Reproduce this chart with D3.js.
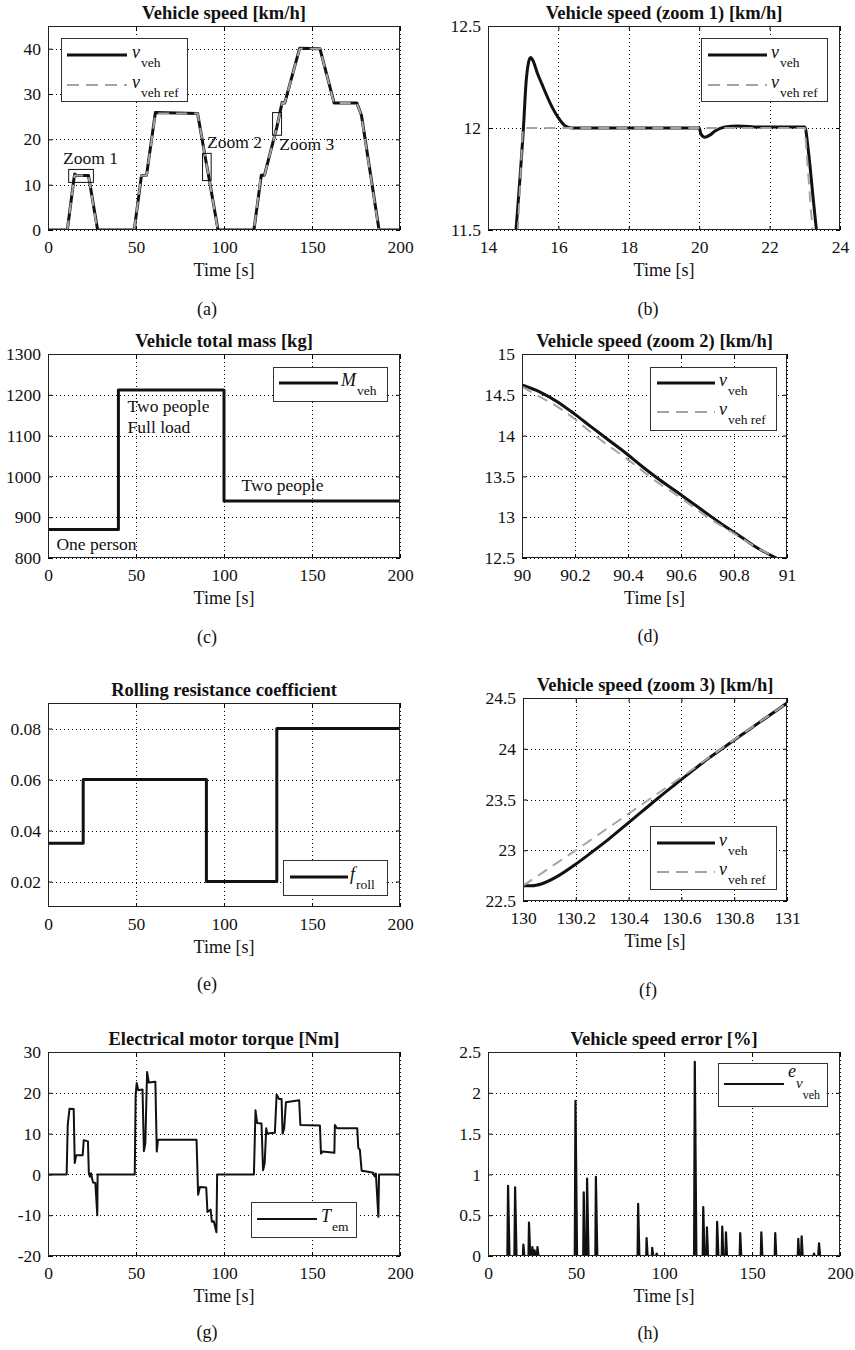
<!DOCTYPE html>
<html>
<head>
<meta charset="utf-8">
<script src="https://cdn.jsdelivr.net/npm/d3@7"></script>
<style>
  body { margin: 0; background: #fff; }
  text { font-family: "Liberation Serif", "Times New Roman", serif; fill: #111; }
</style>
</head>
<body>
<svg id="fig" width="855" height="1350"></svg>
<script>
// ---------------- data ----------------
var timeTicks = [0, 50, 100, 150, 200];

// (a) full drive cycle speed [km/h]
var speedRef = [[0,0],[11,0],[15,12],[23,12],[28,0],[49,0],[53,12],[56,12],[61,25.7],[85,25.7],[90,14.6],[91,12.5],[96.5,0],
  [117,0],[121,12],[123,12],[130,22.65],[131,24.45],[133,28],[134.5,28],[143,40],[154.5,40],[162.5,28],[175.5,28],[178,25.3],[188,0],[200,0]];
var speedVeh = [[0,0],[11,0],[14.8,11.5],[15.2,12.35],[16.2,12],[23,12],[28.2,0],[49,0],[53.1,12],[56,12.1],[61,25.9],[85,25.7],[90,14.62],[91,12.5],[96.6,0],
  [117,0],[121.2,12.1],[123,12.1],[130,22.65],[131,24.45],[133,28.1],[134.5,28],[143,40.1],[154.5,40],[162.6,28],[175.5,28],[178.1,25.3],[188.1,0],[200,0]];
var speedTicks = [0, 10, 20, 30, 40];
var zoomBoxes = [[11.75, 25.8, 10.5, 13.36], [87.8, 92.7, 10.9, 16.9], [127.6, 132.7, 20.9, 25.9]];
var zoomLabels = [["Zoom 1", 8.5, 14.5], ["Zoom 2", 90.4, 18.1], ["Zoom 3", 131.4, 17.6]];

// (b) zoom 1
var zoom1Veh = [[14.75,11.4],[14.85,11.62],[15.01,12.01],[15.08,12.22],[15.15,12.32],[15.21,12.345],[15.28,12.33],[15.4,12.27],[15.52,12.22],
  [15.8,12.11],[16.0,12.05],[16.2,12.01],[16.4,12.0],[20.0,12.0],[20.05,11.97],[20.16,11.955],[20.3,11.965],[20.45,11.985],[20.73,12.005],
  [21.1,12.01],[21.7,12.005],[23.0,12.005],[23.1,11.89],[23.24,11.65],[23.36,11.45]];
var zoom1Ref = [[14.82,11.4],[14.99,12.0],[23.0,12.0],[23.24,11.45]];
var zoom1XTicks = [14, 16, 18, 20, 22, 24];
var zoom1YTicks = [11.5, 12, 12.5];

// (c) vehicle total mass [kg]
var massData = [[0,870],[40,870],[40,1212],[100,1212],[100,940],[200,940]];
var massTicks = [800, 900, 1000, 1100, 1200, 1300];
var massLabels = [["Two people", 45.2, 1158], ["Full load", 45.2, 1107], ["Two people", 110, 965], ["One person", 4.8, 820]];

// (d) zoom 2
var zoom2Veh = [[90,14.62],[90.07,14.53],[90.136,14.41],[90.2,14.26],[90.26,14.11],[90.325,13.95],[90.39,13.79],[90.45,13.63],[90.51,13.48],
  [90.58,13.32],[90.64,13.18],[90.70,13.04],[90.77,12.88],[90.83,12.75],[90.89,12.62],[90.96,12.5]];
var zoom2Ref = [[90,14.6],[90.07,14.47],[90.136,14.35],[90.2,14.2],[90.26,14.04],[90.325,13.88],[90.39,13.73],[90.45,13.58],[90.51,13.43],
  [90.58,13.28],[90.64,13.14],[90.70,13.0],[90.77,12.86],[90.83,12.74],[90.89,12.62],[90.95,12.52]];
var zoom2XTicks = [90, 90.2, 90.4, 90.6, 90.8, 91];
var zoom2YTicks = [12.5, 13, 13.5, 14, 14.5, 15];

// (e) rolling resistance coefficient
var rollData = [[0,0.035],[20,0.035],[20,0.06],[90,0.06],[90,0.02],[130,0.02],[130,0.08],[200,0.08]];
var rollTicks = [0.02, 0.04, 0.06, 0.08];

// (f) zoom 3
var zoom3Veh = [[130,22.65],[130.034,22.65],[130.072,22.67],[130.135,22.75],[130.198,22.86],[130.26,22.98],[130.325,23.11],[130.39,23.25],
  [130.45,23.38],[130.51,23.51],[130.577,23.65],[130.64,23.78],[130.70,23.9],[130.77,24.03],[130.83,24.14],[130.89,24.25],[131,24.45]];
var zoom3Ref = [[130,22.65],[130.2,23.0],[130.4,23.36],[130.6,23.72],[130.8,24.09],[131,24.45]];
var zoom3XTicks = [130, 130.2, 130.4, 130.6, 130.8, 131];
var zoom3YTicks = [22.5, 23, 23.5, 24, 24.5];

// (g) electrical motor torque [Nm]
var torqueData = [[0,0],[10.6,0],[11.2,12],[12.2,16.1],[14.6,16],[15.2,2.8],[16,4.7],[19.7,4.7],[20.3,8.4],[22.7,8.1],[23.2,0.3],[23.8,-0.6],
  [24.4,0.3],[25.6,-2.0],[26.9,-2.1],[28.0,-10.0],[28.2,0],[49.3,0],[49.8,19.5],[50.4,22.4],[51.3,20.6],[53.7,20.8],[54.5,5.7],[55.3,7.6],
  [56.3,25.1],[57.3,22.5],[61.0,22.7],[61.8,5.6],[62.5,8.5],[84.4,8.5],[85.3,-5.0],[86.3,-3.1],[89.9,-3.2],[90.6,-9.2],[92.4,-8.6],[93.1,-11.6],
  [94.2,-11.5],[95.7,-14.2],[96.1,0],[117.0,0],[117.9,15.7],[118.8,12.6],[121.3,12.5],[122.2,1.0],[123.1,2.7],[124.0,11.3],[124.6,10.0],
  [128.9,10.2],[129.9,19.6],[131.2,18.5],[132.7,18.5],[133.3,10.0],[134.2,11.3],[135.2,17.7],[142.7,18.2],[143.4,12.1],[154.5,12.0],[155.1,5.1],
  [156.0,5.6],[162.7,5.3],[163.0,12.1],[164.2,11.3],[175.7,11.3],[176.3,6.5],[177.2,6.0],[178.2,0.9],[181,0.7],[184.8,0.4],[185.6,-0.5],
  [186.3,0.2],[187.7,-10.4],[188.1,0],[200,0]];
var torqueTicks = [-20, -10, 0, 10, 20, 30];

// (h) vehicle speed error [%]
var errorData = [[0,0],[11.0,0],[11.4,0.86],[12.2,0],[15.0,0],[15.4,0.84],[16.2,0],[19.8,0],[20.1,0.14],[20.7,0],[23.0,0],[23.3,0.41],[24.0,0],
  [25.0,0],[25.2,0.11],[25.7,0],[26.3,0],[26.5,0.07],[26.9,0],[27.8,0],[28.1,0.11],[28.7,0],[49.3,0],[49.7,1.90],[50.6,0],[54.1,0],[54.4,0.78],
  [55.0,0],[56.0,0],[56.3,0.95],[57.1,0],[61.0,0],[61.3,0.97],[62.1,0],[85.0,0],[85.3,0.64],[86.0,0],[89.9,0],[90.1,0.22],[90.7,0],[93.1,0],
  [93.3,0.10],[93.9,0],[95.5,0],[95.8,0.03],[96.4,0],[117.1,0],[117.5,2.38],[118.4,0],[122.0,0],[122.3,0.60],[123.0,0],[124.1,0],[124.4,0.35],
  [125.0,0],[129.9,0],[130.2,0.42],[130.9,0],[132.8,0],[133.1,0.36],[133.7,0],[134.9,0],[135.2,0.29],[135.8,0],[143.0,0],[143.3,0.28],[143.9,0],
  [155.0,0],[155.3,0.29],[155.9,0],[162.9,0],[163.2,0.28],[163.8,0],[176.0,0],[176.3,0.21],[176.8,0],[177.9,0],[178.2,0.24],[178.8,0],
  [184.9,0],[185.2,0.03],[185.7,0],[187.6,0],[188.1,0.155],[188.7,0],[200,0]];
var errorTicks = [0, 0.5, 1, 1.5, 2, 2.5];

// ---------------- drawing ----------------
var svg = d3.select("#fig");
var BLACK = "#111", GREY = "#a3a3a3";
var clipId = 0;

function panel(p) {
  var g = svg.append("g");
  var x = d3.scaleLinear().domain(p.xd).range([p.l, p.r]);
  var y = d3.scaleLinear().domain(p.yd).range([p.b, p.t]);
  var fmt = function(d) { return String(d); };

  // dotted grid
  g.selectAll(".gx").data(p.xt).enter().append("line")
    .attr("x1", function(d) { return Math.round(x(d)) + 0.5; })
    .attr("x2", function(d) { return Math.round(x(d)) + 0.5; })
    .attr("y1", p.t).attr("y2", p.b)
    .attr("stroke", "#000").attr("stroke-width", 1).attr("stroke-dasharray", "1,3");
  g.selectAll(".gy").data(p.yt).enter().append("line")
    .attr("y1", function(d) { return Math.round(y(d)) + 0.5; })
    .attr("y2", function(d) { return Math.round(y(d)) + 0.5; })
    .attr("x1", p.l).attr("x2", p.r)
    .attr("stroke", "#000").attr("stroke-width", 1).attr("stroke-dasharray", "1,3");

  // inward ticks on all four sides
  var ax = [
    g.append("g").attr("transform", "translate(0," + p.b + ")")
      .call(d3.axisBottom(x).tickValues(p.xt).tickFormat(fmt).tickSizeInner(-4).tickSizeOuter(0).tickPadding(10.5)),
    g.append("g").attr("transform", "translate(" + p.l + ",0)")
      .call(d3.axisLeft(y).tickValues(p.yt).tickFormat(fmt).tickSizeInner(-4).tickSizeOuter(0).tickPadding(7)),
    g.append("g").attr("transform", "translate(0," + p.t + ")")
      .call(d3.axisTop(x).tickValues(p.xt).tickFormat("").tickSizeInner(-4).tickSizeOuter(0)),
    g.append("g").attr("transform", "translate(" + p.r + ",0)")
      .call(d3.axisRight(y).tickValues(p.yt).tickFormat("").tickSizeInner(-4).tickSizeOuter(0))
  ];
  ax.forEach(function(a) {
    a.attr("font-family", null).attr("font-size", null);
    a.select(".domain").remove();
    a.selectAll("text").style("font-size", "17.5px").attr("fill", BLACK);
    a.selectAll("line").attr("stroke", "#000");
  });

  // data lines
  var id = "clip" + (clipId++);
  svg.append("clipPath").attr("id", id).append("rect")
    .attr("x", p.l).attr("y", p.t).attr("width", p.r - p.l).attr("height", p.b - p.t);
  var lg = g.append("g").attr("clip-path", "url(#" + id + ")");
  p.series.forEach(function(s) {
    var line = d3.line().x(function(d) { return x(d[0]); }).y(function(d) { return y(d[1]); })
      .curve(s.smooth ? d3.curveMonotoneX : d3.curveLinear);
    lg.append("path").datum(s.data).attr("d", line)
      .attr("fill", "none").attr("stroke", s.dash ? GREY : BLACK)
      .attr("stroke-width", s.w).attr("stroke-dasharray", s.dash ? "11,7" : null)
      .attr("stroke-linejoin", "round");
  });

  // frame
  g.append("rect").attr("x", p.l + 0.5).attr("y", p.t + 0.5)
    .attr("width", p.r - p.l - 1).attr("height", p.b - p.t - 1)
    .attr("fill", "none").attr("stroke", "#222").attr("stroke-width", 1);

  // texts
  g.append("text").attr("x", (p.l + p.r) / 2).attr("y", p.t - 7)
    .attr("text-anchor", "middle").style("font-size", "18.5px").style("font-weight", "bold").text(p.title);
  g.append("text").attr("x", (p.l + p.r) / 2).attr("y", p.b + 46)
    .attr("text-anchor", "middle").style("font-size", "18px").text("Time [s]");
  g.append("text").attr("x", p.tagX).attr("y", p.tagY)
    .attr("text-anchor", "middle").style("font-size", "18px").text(p.tag);

  // legend
  var L = p.legend;
  g.append("rect").attr("x", L.box[0] + 0.5).attr("y", L.box[1] + 0.5)
    .attr("width", L.box[2] - L.box[0]).attr("height", L.box[3] - L.box[1])
    .attr("fill", "#fff").attr("stroke", "#333").attr("stroke-width", 1);
  L.items.forEach(function(it, i) {
    var ly = L.ys[i];
    g.append("line").attr("x1", L.line[0]).attr("x2", L.line[1]).attr("y1", ly).attr("y2", ly)
      .attr("stroke", it.dash ? GREY : BLACK).attr("stroke-width", it.w)
      .attr("stroke-dasharray", it.dash ? "12,7" : null);
    var t = g.append("text").attr("x", L.tx).attr("y", ly + 3);
    t.append("tspan").style("font-style", "italic").style("font-size", "18px").text(it.main);
    if (it.sub2) {
      t.attr("y", ly - 7);
      t.append("tspan").attr("dy", 11).style("font-style", "italic").style("font-size", "15px").text(it.sub);
      t.append("tspan").attr("dy", 11).style("font-size", "12px").text(it.sub2);
    } else {
      t.append("tspan").attr("dx", 1).attr("dy", 9).style("font-size", "13.5px").text(it.sub);
    }
  });
  return { g: g, x: x, y: y };
}

var vehItem = { main: "v", sub: "veh", w: 3 };
var refItem = { main: "v", sub: "veh ref", w: 2, dash: true };

// (a)
var pa = panel({ l: 48, r: 400, t: 26, b: 230, xd: [0, 200], yd: [0, 45], xt: timeTicks, yt: speedTicks,
  title: "Vehicle speed [km/h]", tag: "(a)", tagX: 207, tagY: 315,
  series: [{ data: speedVeh, w: 3 }, { data: speedRef, w: 2, dash: true }],
  legend: { box: [61, 38, 187, 101], line: [67, 127], ys: [55, 85], tx: 132, items: [vehItem, refItem] } });
pa.g.selectAll(".zb").data(zoomBoxes).enter().append("rect")
  .attr("x", function(d) { return pa.x(d[0]); }).attr("y", function(d) { return pa.y(d[3]); })
  .attr("width", function(d) { return pa.x(d[1]) - pa.x(d[0]); })
  .attr("height", function(d) { return pa.y(d[2]) - pa.y(d[3]); })
  .attr("fill", "none").attr("stroke", "#111").attr("stroke-width", 1);
pa.g.selectAll(".zl").data(zoomLabels).enter().append("text")
  .attr("x", function(d) { return pa.x(d[1]); }).attr("y", function(d) { return pa.y(d[2]); })
  .style("font-size", "17.5px").text(function(d) { return d[0]; });

// (b)
panel({ l: 488, r: 840, t: 26, b: 230, xd: [14, 24], yd: [11.5, 12.5], xt: zoom1XTicks, yt: zoom1YTicks,
  title: "Vehicle speed (zoom 1) [km/h]", tag: "(b)", tagX: 648, tagY: 315,
  series: [{ data: zoom1Veh, w: 3, smooth: true }, { data: zoom1Ref, w: 2, dash: true }],
  legend: { box: [701, 38, 827, 101], line: [708, 767], ys: [55, 85], tx: 771, items: [vehItem, refItem] } });

// (c)
var pc = panel({ l: 48, r: 400, t: 354, b: 558, xd: [0, 200], yd: [800, 1300], xt: timeTicks, yt: massTicks,
  title: "Vehicle total mass [kg]", tag: "(c)", tagX: 207, tagY: 643,
  series: [{ data: massData, w: 3 }],
  legend: { box: [273, 367, 387, 401], line: [279, 338], ys: [383], tx: 341, items: [{ main: "M", sub: "veh", w: 3 }] } });
pc.g.selectAll(".ml").data(massLabels).enter().append("text")
  .attr("x", function(d) { return pc.x(d[1]); }).attr("y", function(d) { return pc.y(d[2]); })
  .style("font-size", "17.5px").text(function(d) { return d[0]; });

// (d)
panel({ l: 522, r: 787, t: 354, b: 558, xd: [90, 91], yd: [12.5, 15], xt: zoom2XTicks, yt: zoom2YTicks,
  title: "Vehicle speed (zoom 2) [km/h]", tag: "(d)", tagX: 648, tagY: 642,
  series: [{ data: zoom2Veh, w: 3, smooth: true }, { data: zoom2Ref, w: 2, dash: true, smooth: true }],
  legend: { box: [650, 367, 776, 430], line: [657, 715], ys: [383, 412], tx: 719, items: [vehItem, refItem] } });

// (e)
panel({ l: 48, r: 400, t: 703, b: 907, xd: [0, 200], yd: [0.01, 0.09], xt: timeTicks, yt: rollTicks,
  title: "Rolling resistance coefficient", tag: "(e)", tagX: 207, tagY: 990,
  series: [{ data: rollData, w: 3 }],
  legend: { box: [283, 860, 387, 895], line: [290, 348], ys: [877], tx: 350, items: [{ main: "f", sub: "roll", w: 3 }] } });

// (f)
panel({ l: 523, r: 787, t: 698, b: 901, xd: [130, 131], yd: [22.5, 24.5], xt: zoom3XTicks, yt: zoom3YTicks,
  title: "Vehicle speed (zoom 3) [km/h]", tag: "(f)", tagX: 648, tagY: 996,
  series: [{ data: zoom3Veh, w: 3, smooth: true }, { data: zoom3Ref, w: 2, dash: true }],
  legend: { box: [650, 826, 776, 889], line: [657, 715], ys: [843, 872], tx: 719, items: [vehItem, refItem] } });

// (g)
panel({ l: 48, r: 400, t: 1052, b: 1256, xd: [0, 200], yd: [-20, 30], xt: timeTicks, yt: torqueTicks,
  title: "Electrical motor torque [Nm]", tag: "(g)", tagX: 207, tagY: 1338,
  series: [{ data: torqueData, w: 2 }],
  legend: { box: [251, 1202, 356, 1237], line: [257, 317], ys: [1219], tx: 321, items: [{ main: "T", sub: "em", w: 2 }] } });

// (h)
panel({ l: 488, r: 840, t: 1052, b: 1256, xd: [0, 200], yd: [0, 2.5], xt: timeTicks, yt: errorTicks,
  title: "Vehicle speed error [%]", tag: "(h)", tagX: 648, tagY: 1339,
  series: [{ data: errorData, w: 2.2 }],
  legend: { box: [718, 1063, 827, 1106], line: [724, 784], ys: [1084], tx: 788, items: [{ main: "e", sub: "v", sub2: "veh", w: 2 }] } });
</script>
</body>
</html>
